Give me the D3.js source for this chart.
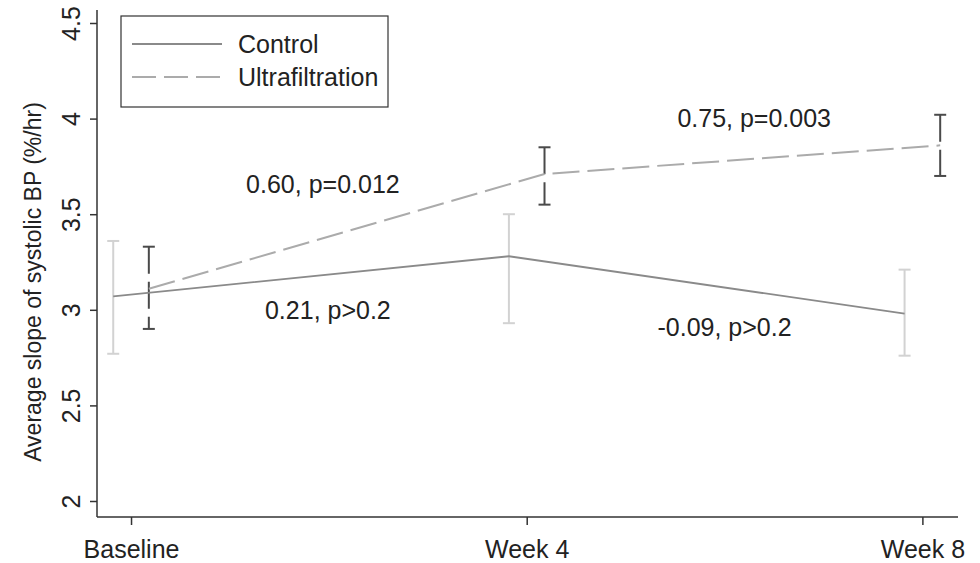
<!DOCTYPE html>
<html><head><meta charset="utf-8">
<script src="https://cdn.jsdelivr.net/npm/d3@7"></script>
<style>body{margin:0;background:#fff}svg{display:block}text{font-family:"Liberation Sans",Arial,sans-serif;fill:#222}</style>
</head><body><svg id="c" width="980" height="563"></svg>
<script>
const weeks = [0, 4, 8];
const xLabels = ["Baseline", "Week 4", "Week 8"];
const yTicks = [2, 2.5, 3, 3.5, 4, 4.5];
const controlMean = [3.07, 3.28, 2.98];
const controlLo = [2.77, 2.93, 2.76];
const controlHi = [3.36, 3.50, 3.21];
const ufMean = [3.11, 3.71, 3.86];
const ufLo = [2.90, 3.55, 3.70];
const ufHi = [3.33, 3.85, 4.02];
const annotations = [
  {text: "0.60, p=0.012", wk: 1.94, val: 3.655},
  {text: "0.21, p>0.2", wk: 1.99, val: 3.0},
  {text: "0.75, p=0.003", wk: 6.3, val: 4.0},
  {text: "-0.09, p>0.2", wk: 6.0, val: 2.91}
];

const FONT = "'Liberation Sans',Arial,sans-serif";
const svg = d3.select("#c");
const x = d3.scaleLinear().domain([-0.344, 8.36]).range([97, 958]);
const y = d3.scaleLinear().domain([2, 4.5]).range([501, 23]);
const off = 0.18;

// axes
const ya = svg.append("g").attr("transform","translate(97,0)")
  .call(d3.axisLeft(y).tickValues(yTicks).tickSize(7).tickFormat(d3.format("")));
ya.select(".domain").attr("d","M0,10V517").attr("stroke","#333").attr("stroke-width",1.5);
ya.selectAll(".tick line").attr("stroke","#333").attr("stroke-width",1.5);
ya.selectAll(".tick text").attr("transform","rotate(-90)").attr("x",0).attr("y",-17)
  .attr("dy",0).attr("text-anchor","middle").style("font-size","25px")
  .style("font-family",FONT).attr("fill","#222");

const xa = svg.append("g").attr("transform","translate(0,517)")
  .call(d3.axisBottom(x).tickValues(weeks).tickSize(8).tickFormat((d,i)=>xLabels[i]));
xa.select(".domain").attr("d","M97,0H958").attr("stroke","#333").attr("stroke-width",1.5);
xa.selectAll(".tick line").attr("stroke","#333").attr("stroke-width",1.5);
xa.selectAll(".tick text").attr("y",23).attr("dy","0.71em").style("font-size","25px")
  .style("font-family",FONT).attr("fill","#222");

svg.append("text").attr("transform","translate(41,282) rotate(-90)")
  .attr("text-anchor","middle").style("font-size","23px")
  .text("Average slope of systolic BP (%/hr)");

// error bars
function errBars(mean, lo, hi, dx, color, dash){
  const g = svg.append("g");
  weeks.forEach((w,i)=>{
    const cx = x(w+dx);
    g.append("line").attr("x1",cx).attr("x2",cx).attr("y1",y(hi[i])).attr("y2",y(lo[i]))
      .attr("stroke",color).attr("stroke-width",2).attr("stroke-dasharray",dash||null);
    [hi[i],lo[i]].forEach(v=>g.append("line").attr("x1",cx-6).attr("x2",cx+6)
      .attr("y1",y(v)).attr("y2",y(v)).attr("stroke",color).attr("stroke-width",2));
  });
}
errBars(controlMean, controlLo, controlHi, -off, "#d2d2d2");
errBars(ufMean, ufLo, ufHi, off, "#4a4a4a", "27,8");

const line = d3.line();
svg.append("path").attr("d", line(weeks.map((w,i)=>[x(w-off), y(controlMean[i])])))
  .attr("fill","none").attr("stroke","#8a8a8a").attr("stroke-width",1.8);
svg.append("path").attr("d", line(weeks.map((w,i)=>[x(w+off), y(ufMean[i])])))
  .attr("fill","none").attr("stroke","#ababab").attr("stroke-width",2).attr("stroke-dasharray","27,8");

annotations.forEach(a=>svg.append("text").attr("x",x(a.wk)).attr("y",y(a.val))
  .attr("text-anchor","middle").attr("dy","0.35em").style("font-size","25px").text(a.text));

// legend
const lg = svg.append("g");
lg.append("rect").attr("x",121).attr("y",16).attr("width",267).attr("height",91)
  .attr("fill","#fff").attr("stroke","#333").attr("stroke-width",1.2);
lg.append("line").attr("x1",132).attr("x2",222).attr("y1",44).attr("y2",44)
  .attr("stroke","#8a8a8a").attr("stroke-width",1.8);
lg.append("line").attr("x1",132).attr("x2",222).attr("y1",77).attr("y2",77)
  .attr("stroke","#ababab").attr("stroke-width",2).attr("stroke-dasharray","24,8");
lg.append("text").attr("x",238).attr("y",44).attr("dy","0.35em").style("font-size","25px").text("Control");
lg.append("text").attr("x",238).attr("y",77).attr("dy","0.35em").style("font-size","25px").text("Ultrafiltration");
</script></body></html>
